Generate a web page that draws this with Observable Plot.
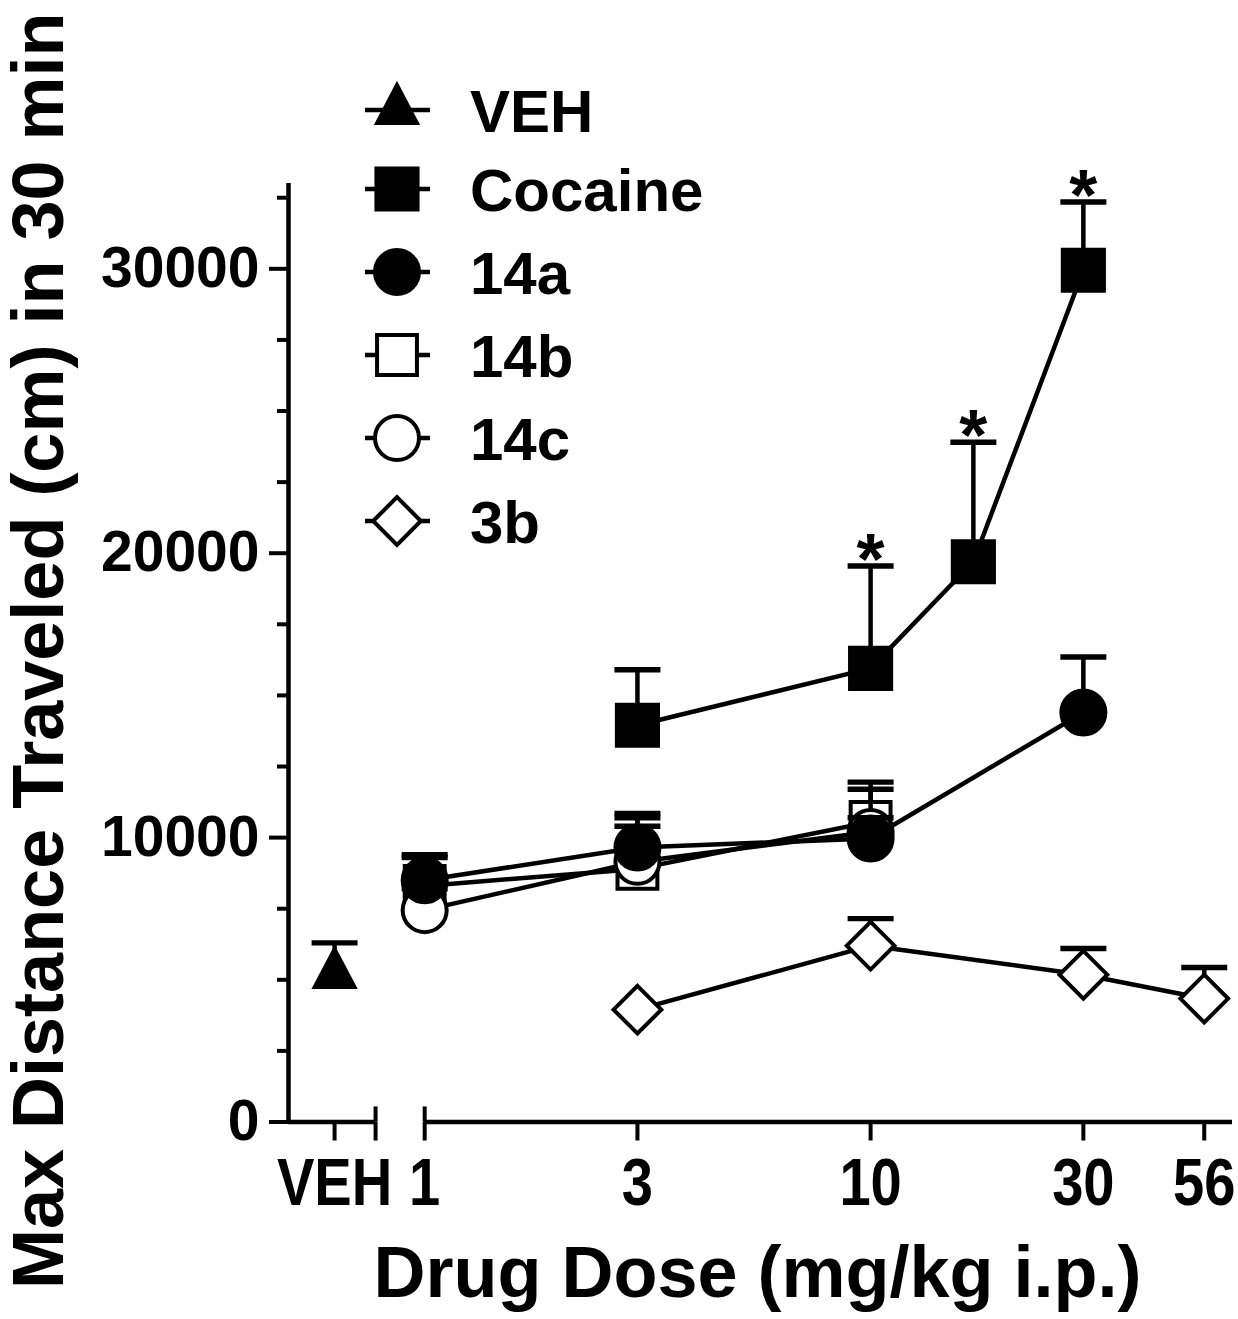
<!DOCTYPE html>
<html>
<head>
<meta charset="utf-8">
<script src="https://cdn.jsdelivr.net/npm/d3@7"></script>
<script src="https://cdn.jsdelivr.net/npm/@observablehq/plot@0.6"></script>
<style>
  body { margin: 0; background: #fff; }
  #wrap { position: relative; width: 1238px; height: 1319px; }
</style>
</head>
<body>
<div id="wrap"></div>
<script>
// ---------- data ----------
const seriesNames = ["VEH", "Cocaine", "14a", "14b", "14c", "3b"];

// VEH is shown at its own slot left of the axis break
const vehDose = [0.628];
const vehMean = [5200];
const vehTop  = [6300];

const cocaineDose = [3, 10, 17, 30];
const cocaineMean = [13950, 15950, 19700, 29950];
const cocaineTop  = [15900, 19550, 23900, 32350];

const c14aDose = [1, 3, 10, 30];
const c14aMean = [8500, 9650, 9970, 14400];
const c14aTop  = [9400, 10850, 10700, 16350];

const c14bDose = [1, 3, 10];
const c14bMean = [8300, 8900, 10550];
const c14bTop  = [9300, 10700, 11950];

const c14cDose = [1, 3, 10];
const c14cMean = [7450, 9150, 10200];
const c14cTop  = [8200, 10400, 11700];

const c3bDose = [3, 10, 30, 56];
const c3bMean = [3950, 6200, 5180, 4340];
const c3bTop  = [3950, 7150, 6100, 5430];

const starDoses = [10, 17, 30];          // significant cocaine doses

const xTickValues = [0.628, 1, 3, 10, 30, 56];
const xTickLabels = ["VEH", "1", "3", "10", "30", "56"];
const yMajorTicks = [0, 10000, 20000, 30000];
const yMinorTicks = [2500, 5000, 7500, 12500, 15000, 17500, 22500, 25000, 27500, 32500];

const xTitle = "Drug Dose (mg/kg i.p.)";
const yTitle = "Max Distance Traveled (cm) in 30 min";

// ---------- build table ----------
const raw = {
  "VEH": [vehDose, vehMean, vehTop],
  "Cocaine": [cocaineDose, cocaineMean, cocaineTop],
  "14a": [c14aDose, c14aMean, c14aTop],
  "14b": [c14bDose, c14bMean, c14bTop],
  "14c": [c14cDose, c14cMean, c14cTop],
  "3b": [c3bDose, c3bMean, c3bTop]
};
const rows = [];
for (const s of seriesNames) {
  const [d, m, t] = raw[s];
  d.forEach((dose, i) => rows.push({series: s, dose, mean: m[i], top: t[i]}));
}
const tickRows = xTickValues.map((v, i) => ({v, label: xTickLabels[i]}));

// custom symbols
const triangleSym = {draw(ctx) { ctx.moveTo(0, -27); ctx.lineTo(21.5, 14); ctx.lineTo(-21.5, 14); ctx.closePath(); }};
const capSymbol = {draw(ctx) { ctx.rect(-23, -2.7, 46, 5.4); }};

const style = {
  "VEH":     {symbol: triangleSym,       r: 16,   fill: "black", sw: 2},
  "Cocaine": {symbol: d3.symbolSquare,   r: 23.2, fill: "black", sw: 4},
  "14a":     {symbol: d3.symbolCircle,   r: 22,   fill: "black", sw: 4},
  "14b":     {symbol: d3.symbolSquare,   r: 22.5, fill: "white", sw: 4},
  "14c":     {symbol: d3.symbolCircle,   r: 22,   fill: "white", sw: 4},
  "3b":      {symbol: d3.symbolDiamond2, r: 21.5, fill: "white", sw: 4}
};
const drawOrder = ["3b", "14b", "14c", "14a", "Cocaine", "VEH"];

const xDomain = [0.495, 64.8];
const axisBreak = [0.776, 1];
const breakUp = 530;

const FONT = "'Liberation Sans', Arial, Helvetica, sans-serif";

const marks = [
  // axes lines
  Plot.ruleX([xDomain[0]], {y1: 0, y2: 33000, strokeWidth: 4.5}),
  Plot.ruleY([0], {x1: xDomain[0], x2: axisBreak[0], strokeWidth: 4.5}),
  Plot.ruleY([0], {x1: axisBreak[1], x2: xDomain[1], strokeWidth: 4.5}),
  Plot.ruleX(axisBreak, {y1: 0, y2: breakUp, strokeWidth: 4}),
  Plot.axisY({ticks: yMajorTicks, tickSize: 19, tickPadding: 10, fontSize: 57, strokeWidth: 4, label: null, tickFormat: d => String(d)}),
  Plot.axisY({ticks: yMinorTicks, tickSize: 11, strokeWidth: 4, label: null, tickFormat: () => ""}),
  Plot.axisX({ticks: [...xTickValues, axisBreak[0]], tickSize: 19, strokeWidth: 4, label: null, tickFormat: () => ""}),
  Plot.text(tickRows, {x: "v", text: "label", frameAnchor: "bottom", lineAnchor: "top", textAnchor: "middle",
    dy: 36, fontSize: 66, className: "xticklabel"}),
  // connecting lines
  Plot.line(rows.filter(r => r.series !== "VEH"), {x: "dose", y: "mean", z: "series", stroke: "black", strokeWidth: 4.5})
];

for (const s of drawOrder) {
  const data = rows.filter(r => r.series === s);
  marks.push(
    Plot.ruleX(data.filter(r => r.top > r.mean), {x: "dose", y1: "mean", y2: "top", strokeWidth: 4.5}),
    Plot.dot(data.filter(r => r.top > r.mean), {x: "dose", y: "top", symbol: capSymbol, r: 10, fill: "black", stroke: null}),
    Plot.dot(data, {x: "dose", y: "mean", symbol: style[s].symbol, r: style[s].r, fill: style[s].fill, stroke: "black", strokeWidth: style[s].sw})
  );
}

marks.push(
  Plot.text(rows.filter(r => r.series === "Cocaine" && starDoses.includes(r.dose)),
    {x: "dose", y: "top", text: () => "*", fontSize: 72, dy: -5, lineAnchor: "middle"}),
  Plot.text([yTitle], {frameAnchor: "left", textAnchor: "middle", lineAnchor: "middle", rotate: -90, dx: -249, dy: -2, fontSize: 72}),
  Plot.text([xTitle], {frameAnchor: "bottom", textAnchor: "middle", lineAnchor: "middle", dx: -3, dy: 152, fontSize: 72})
);

const plot = Plot.plot({
  width: 1238,
  height: 1319,
  marginLeft: 288,
  marginRight: 6,
  marginTop: 183,
  marginBottom: 197.5,
  x: {type: "log", domain: xDomain},
  y: {domain: [0, 33000]},
  style: {fontFamily: FONT, fontWeight: "bold", color: "black", background: "white", overflow: "visible"},
  marks
});

// condense the x tick labels horizontally (narrow bold look of the original)
d3.select(plot).selectAll(".xticklabel text").each(function() {
  const el = d3.select(this);
  const t = el.attr("transform");
  if (t) {
    el.attr("transform", t + " scale(0.85,1)");
  } else {
    const x = +el.attr("x") || 0, y = +el.attr("y") || 0;
    el.attr("x", null).attr("y", null).attr("transform", `translate(${x},${y}) scale(0.85,1)`);
  }
});

const wrap = document.getElementById("wrap");
wrap.appendChild(plot);

// ---------- legend (overlay) ----------
const legend = d3.create("svg")
  .attr("width", 1238).attr("height", 600)
  .style("position", "absolute").style("left", "0px").style("top", "0px")
  .style("pointer-events", "none")
  .style("font-family", FONT)
  .style("font-weight", "bold");

const legendY = [110, 189, 272, 355, 438, 521];
seriesNames.forEach((s, i) => {
  const cy = legendY[i];
  const g = legend.append("g").attr("transform", `translate(0,${cy})`);
  g.append("line").attr("x1", 365).attr("x2", 430).attr("y1", 0).attr("y2", 0)
    .attr("stroke", "black").attr("stroke-width", 4.5);
  g.append("path")
    .attr("d", d3.symbol(style[s].symbol, Math.PI * style[s].r * style[s].r)())
    .attr("transform", "translate(397,0)")
    .attr("fill", style[s].fill).attr("stroke", "black").attr("stroke-width", style[s].sw);
  g.append("text").attr("x", 470).attr("y", 0).attr("dy", "0.36em")
    .attr("font-size", 60).attr("fill", "black").text(s);
});
wrap.appendChild(legend.node());
</script>
</body>
</html>
